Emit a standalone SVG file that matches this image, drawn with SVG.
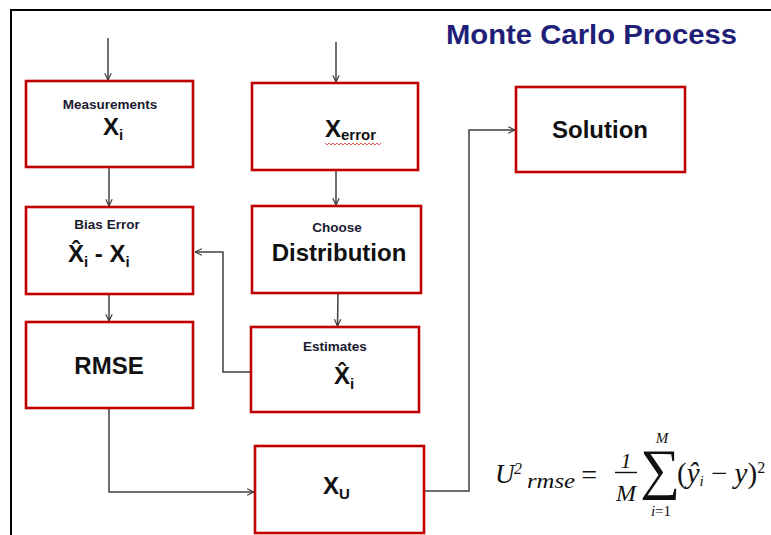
<svg xmlns="http://www.w3.org/2000/svg" width="771" height="535" viewBox="0 0 771 535">
<defs>
<marker id="arr" viewBox="0 0 10 10" refX="9.5" refY="5" markerWidth="8" markerHeight="8" markerUnits="userSpaceOnUse" orient="auto">
<path d="M1,1 L9.5,5 L1,9" fill="none" stroke="#333" stroke-width="1.4"/>
</marker>
<style>
.box{fill:#fff;stroke:#C00000;stroke-width:2.6}
.con{fill:none;stroke:#404040;stroke-width:1.5}
.sm{font-family:"Liberation Sans",Arial,sans-serif;font-weight:bold;font-size:13.5px;fill:#1a1a2e;text-anchor:middle}
.big{font-family:"Liberation Sans",Arial,sans-serif;font-weight:bold;font-size:24px;fill:#111}
.sub{font-size:15px}
.math{font-family:"Liberation Serif","Times New Roman",serif;font-style:italic;fill:#111}
</style>
</defs>
<rect width="771" height="535" fill="#fff"/>
<path d="M11,535 V10 H771" fill="none" stroke="#000" stroke-width="2"/>
<text x="446" y="44" font-family="Liberation Sans,Arial,sans-serif" font-weight="bold" font-size="27" fill="#1F1F78" textLength="291" lengthAdjust="spacingAndGlyphs">Monte Carlo Process</text>

<g id="connectors">
<path class="con" d="M108,38 V80" marker-end="url(#arr)"/>
<path class="con" d="M336,42 V82" marker-end="url(#arr)"/>
<path class="con" d="M109,168 V206" marker-end="url(#arr)"/>
<path class="con" d="M336,170 V205" marker-end="url(#arr)"/>
<path class="con" d="M109,294 V321" marker-end="url(#arr)"/>
<path class="con" d="M338,293 L337.5,326" marker-end="url(#arr)"/>
<path class="con" d="M251,372 H223 V252 H195" marker-end="url(#arr)"/>
<path class="con" d="M109,408 V492 H254" marker-end="url(#arr)"/>
<path class="con" d="M424,491 H469 V130 H515" marker-end="url(#arr)"/>
</g>

<g id="measurements">
<rect class="box" x="26" y="81" width="167" height="86"/>
<text class="sm" x="110" y="109">Measurements</text>
<text class="big" x="103" y="135">X<tspan class="sub" dy="5">i</tspan></text>
</g>

<g id="xerror">
<rect class="box" x="252" y="83" width="166" height="87"/>
<text class="big" x="325" y="137">X<tspan class="sub" font-size="16" dy="3">error</tspan></text>
<path d="M325,143 l2,2 l2,-2 l2,2 l2,-2 l2,2 l2,-2 l2,2 l2,-2 l2,2 l2,-2 l2,2 l2,-2 l2,2 l2,-2 l2,2 l2,-2 l2,2 l2,-2 l2,2 l2,-2 l2,2 l2,-2 l2,2 l2,-2 l2,2 l2,-2 l2,2 l2,-2" fill="none" stroke="#e03030" stroke-width="0.8"/>
</g>

<g id="solution">
<rect class="box" x="516" y="87" width="169" height="85"/>
<text class="big" x="600" y="138" text-anchor="middle">Solution</text>
</g>

<g id="bias">
<rect class="box" x="26" y="207" width="167" height="87"/>
<text class="sm" x="107" y="229">Bias Error</text>
<text class="big" x="68" y="262">X̂<tspan class="sub" dy="5">i</tspan><tspan dy="-5"> - X</tspan><tspan class="sub" dy="5">i</tspan></text>
</g>

<g id="distribution">
<rect class="box" x="252" y="206" width="169" height="87"/>
<text class="sm" x="337" y="232">Choose</text>
<text class="big" x="339" y="261" text-anchor="middle">Distribution</text>
</g>

<g id="rmse">
<rect class="box" x="26" y="322" width="167" height="86"/>
<text class="big" x="109" y="374" text-anchor="middle">RMSE</text>
</g>

<g id="estimates">
<rect class="box" x="251" y="327" width="168" height="85"/>
<text class="sm" x="335" y="351">Estimates</text>
<text class="big" x="334" y="384">X̂<tspan class="sub" dy="5">i</tspan></text>
</g>

<g id="xu">
<rect class="box" x="255" y="446" width="169" height="87"/>
<text class="big" x="323" y="494">X<tspan class="sub" font-size="16" dy="5">U</tspan></text>
</g>

<g id="formula">
<text class="math" x="495" y="483" font-size="27">U</text>
<text class="math" x="514" y="474" font-size="16" font-style="normal">2</text>
<text class="math" x="527" y="488" font-size="20" textLength="48" lengthAdjust="spacingAndGlyphs">rmse</text>
<text class="math" x="589" y="484" font-size="28" font-style="normal" text-anchor="middle">=</text>
<text class="math" x="626" y="468" font-size="22" font-style="normal" text-anchor="middle">1</text>
<path d="M615,472.5 H637" stroke="#111" stroke-width="1.4"/>
<text class="math" x="626" y="501" font-size="24" text-anchor="middle">M</text>
<text class="math" x="660" y="488" font-size="56" font-style="normal" text-anchor="middle">∑</text>
<text class="math" x="662" y="443" font-size="15" text-anchor="middle">M</text>
<text class="math" x="661" y="516" font-size="15" text-anchor="middle">i<tspan font-style="normal">=1</tspan></text>
<text class="math" x="677" y="483" font-size="29"><tspan font-style="normal">(</tspan>ŷ<tspan font-size="15" dy="3">i</tspan><tspan dy="-3" font-style="normal"> − </tspan>y<tspan font-style="normal">)</tspan><tspan font-style="normal" font-size="16" dy="-10">2</tspan></text>
</g>
</svg>
